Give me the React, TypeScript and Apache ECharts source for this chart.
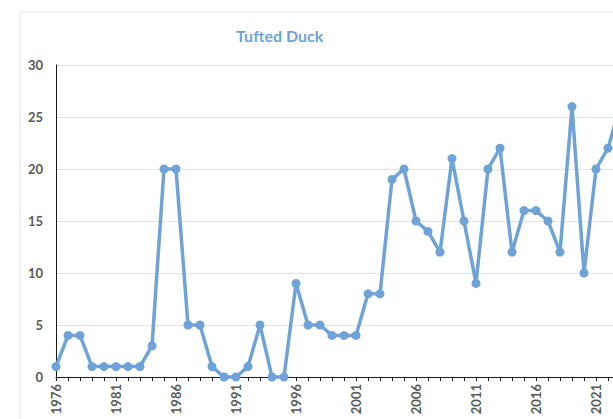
import React, { useEffect, useRef } from "react";
import * as echarts from "echarts";

const years: string[] = [
  "1976","1977","1978","1979","1980","1981","1982","1983","1984","1985",
  "1986","1987","1988","1989","1990","1991","1992","1993","1994","1995",
  "1996","1997","1998","1999","2000","2001","2002","2003","2004","2005",
  "2006","2007","2008","2009","2010","2011","2012","2013","2014","2015",
  "2016","2017","2018","2019","2020","2021","2022","2023",
];
const counts: number[] = [
  1, 4, 4, 1, 1, 1, 1, 1, 3, 20,
  20, 5, 5, 1, 0, 0, 1, 5, 0, 0,
  9, 5, 5, 4, 4, 4, 8, 8, 19, 20,
  15, 14, 12, 21, 15, 9, 20, 22, 12, 16,
  16, 15, 12, 26, 10, 20, 22, 26,
];
const yTicks = { min: 0, max: 30, interval: 5 };
const title = "Tufted Duck";

export default function App() {
  const ref = useRef<HTMLDivElement>(null);
  useEffect(() => {
    if (!ref.current) return;
    const chart = echarts.init(ref.current, null, { renderer: "svg" });
    const font = "Lato, 'Open Sans', sans-serif";
    chart.setOption({
      animation: false,
      backgroundColor: "#ffffff",
      textStyle: { fontFamily: font },
      title: {
        text: title,
        left: 236,
        top: 27,
        textStyle: { color: "#6fa3d8", fontSize: 16, fontWeight: "bold", fontFamily: font },
        padding: 0,
      },
      graphic: [
        {
          type: "rect",
          shape: { x: 20, y: 12, width: 700, height: 500 },
          style: { fill: "none", stroke: "#e3e3e3", lineWidth: 1 },
          silent: true,
          z: -1,
        },
      ],
      grid: { left: 56, top: 65, bottom: 42, right: 20, containLabel: false },
      xAxis: {
        type: "category",
        data: years,
        boundaryGap: false,
        axisLine: { show: true, lineStyle: { color: "#1a1a1a", width: 1 } },
        axisTick: { show: true, interval: 0, length: 4, lineStyle: { color: "#1a1a1a" } },
        axisLabel: {
          interval: 4,
          rotate: 90,
          margin: 7,
          color: "#595959",
          fontSize: 13,
          fontWeight: "bold",
          fontFamily: font,
        },
        splitLine: { show: false },
      },
      yAxis: {
        type: "value",
        min: yTicks.min,
        max: yTicks.max,
        interval: yTicks.interval,
        axisLine: { show: true, lineStyle: { color: "#1a1a1a", width: 1 } },
        axisTick: { show: false },
        axisLabel: { color: "#595959", fontSize: 13, fontWeight: "bold", margin: 13, fontFamily: font },
        splitLine: { show: true, lineStyle: { color: "#e3e3e3", width: 1 } },
      },
      series: [
        {
          type: "line",
          data: counts,
          symbol: "circle",
          symbolSize: 9,
          showSymbol: true,
          showAllSymbol: true,
          lineStyle: { color: "#6fa3d8", width: 3.5 },
          itemStyle: { color: "#6fa3d8" },
          clip: false,
        },
      ],
    });
    return () => chart.dispose();
  }, []);
  return (
    <div style={{ position: "fixed", left: 0, top: 0, width: 613, height: 419, overflow: "hidden", background: "#fff" }}>
      <div ref={ref} style={{ width: 640, height: 419 }} />
    </div>
  );
}
